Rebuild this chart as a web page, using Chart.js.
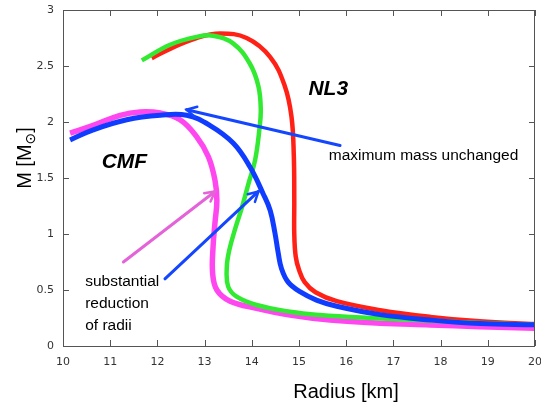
<!DOCTYPE html>
<html>
<head>
<meta charset="utf-8">
<script src="https://cdn.jsdelivr.net/npm/chart.js@4.4.0/dist/chart.umd.min.js"></script>
<style>
  body { margin: 0; background: #fff; }
  canvas { display: block; }
</style>
</head>
<body>
<canvas id="mr" width="541" height="410"></canvas>
<script>
// mass-radius curves (radius in km, mass in solar masses)
const cmfRadius = [10.15, 10.64, 11.35, 12.06, 12.62, 13.11, 13.61, 13.96, 14.24, 14.39, 14.49, 14.56, 14.63, 14.77, 15.02, 15.37, 15.8, 16.72, 17.78, 18.83, 20];
const cmfMass = [1.84, 1.93, 2.02, 2.06, 2.06, 1.97, 1.81, 1.6, 1.36, 1.21, 1.01, 0.83, 0.69, 0.57, 0.485, 0.41, 0.355, 0.28, 0.232, 0.2, 0.19];

const cmf2Radius = [10.15, 10.64, 11.21, 11.63, 12.06, 12.48, 12.83, 13.08, 13.22, 13.26, 13.22, 13.18, 13.17, 13.26, 13.54, 14.1, 14.81, 15.66, 16.72, 17.78, 18.83, 20];
const cmf2Mass = [1.9, 1.97, 2.06, 2.09, 2.08, 2.02, 1.87, 1.69, 1.48, 1.3, 1.1, 0.89, 0.65, 0.5, 0.4, 0.337, 0.277, 0.232, 0.203, 0.188, 0.172, 0.158];

const nl3Radius = [11.88, 12.3, 12.83, 13.33, 13.89, 14.39, 14.7, 14.84, 14.89, 14.9, 14.9, 14.93, 15.0, 15.12, 15.35, 15.8, 16.72, 17.78, 18.83, 20];
const nl3Mass = [2.57, 2.66, 2.75, 2.79, 2.75, 2.58, 2.32, 2.05, 1.7, 1.3, 1.0, 0.8, 0.68, 0.57, 0.48, 0.4, 0.32, 0.26, 0.22, 0.196];

const nl32Radius = [11.67, 12.27, 12.83, 13.18, 13.61, 13.96, 14.14, 14.19, 14.16, 14.07, 13.93, 13.8, 13.65, 13.52, 13.47, 13.5, 13.68, 14.1, 14.81, 15.44, 16.5, 17.6, 18.8, 20];
const nl32Mass = [2.55, 2.69, 2.76, 2.77, 2.7, 2.52, 2.32, 2.11, 1.93, 1.66, 1.45, 1.25, 1.05, 0.85, 0.7, 0.53, 0.44, 0.366, 0.306, 0.277, 0.25, 0.23, 0.205, 0.19];

// arrows: [fromR, fromM, toR, toM, colour]
const arrows = [
  [15.87, 1.79, 12.62, 2.11, '#1446ff'],
  [11.28, 0.75, 13.22, 1.38, '#e463d8'],
  [12.16, 0.6, 14.14, 1.38, '#1446ff'],
];

const labels = [
  { text: 'NL3', r: 15.2, m: 2.24, font: 'italic bold 21px "Liberation Sans", Arial' },
  { text: 'CMF', r: 10.82, m: 1.587, font: 'italic bold 21px "Liberation Sans", Arial' },
  { text: 'maximum mass unchanged', r: 15.63, m: 1.66, font: '15.5px "Liberation Sans", Arial' },
  { text: 'substantial', r: 10.47, m: 0.536, font: '15.5px "Liberation Sans", Arial' },
  { text: 'reduction', r: 10.47, m: 0.34, font: '15.5px "Liberation Sans", Arial' },
  { text: 'of radii', r: 10.47, m: 0.143, font: '15.5px "Liberation Sans", Arial' },
];

const toPoints = (rs, ms) => rs.map((r, i) => ({ x: r, y: ms[i] }));

function curve(rs, ms, color, width) {
  return {
    data: toPoints(rs, ms),
    showLine: true,
    borderColor: color,
    borderWidth: width,
    pointRadius: 0,
    tension: 0.4,
    fill: false,
  };
}

function drawArrow(ctx, x1, y1, x2, y2, color) {
  const ang = Math.atan2(y2 - y1, x2 - x1);
  const head = 11;
  ctx.save();
  ctx.strokeStyle = color;
  ctx.lineWidth = 3;
  ctx.lineCap = 'round';
  ctx.beginPath();
  ctx.moveTo(x1, y1);
  ctx.lineTo(x2, y2);
  ctx.stroke();
  ctx.lineWidth = 2.5;
  ctx.beginPath();
  ctx.moveTo(x2 - head * Math.cos(ang - 0.5), y2 - head * Math.sin(ang - 0.5));
  ctx.lineTo(x2, y2);
  ctx.lineTo(x2 - head * Math.cos(ang + 0.5), y2 - head * Math.sin(ang + 0.5));
  ctx.stroke();
  ctx.restore();
}

const decorations = {
  id: 'decorations',
  afterDatasetsDraw(chart) {
    const { ctx, chartArea: a, scales: { x, y } } = chart;

    // frame with inward ticks on all four sides
    ctx.save();
    ctx.strokeStyle = '#555';
    ctx.lineWidth = 1;
    ctx.strokeRect(a.left + 0.5, a.top + 0.5, a.right - a.left - 1, a.bottom - a.top);
    ctx.beginPath();
    x.ticks.forEach(t => {
      const px = Math.round(x.getPixelForValue(t.value)) + 0.5;
      ctx.moveTo(px, a.bottom); ctx.lineTo(px, a.bottom - 6);
      ctx.moveTo(px, a.top); ctx.lineTo(px, a.top + 6);
    });
    y.ticks.forEach(t => {
      const py = Math.round(y.getPixelForValue(t.value)) + 0.5;
      ctx.moveTo(a.left, py); ctx.lineTo(a.left + 6, py);
      ctx.moveTo(a.right, py); ctx.lineTo(a.right - 6, py);
    });
    ctx.stroke();
    ctx.restore();

    arrows.forEach(([r1, m1, r2, m2, c]) => {
      drawArrow(ctx, x.getPixelForValue(r1), y.getPixelForValue(m1),
        x.getPixelForValue(r2), y.getPixelForValue(m2), c);
    });

    ctx.save();
    ctx.fillStyle = '#000';
    ctx.textBaseline = 'alphabetic';
    labels.forEach(l => {
      ctx.font = l.font;
      ctx.fillText(l.text, x.getPixelForValue(l.r), y.getPixelForValue(l.m));
    });

    // axis titles
    ctx.font = '20px "Liberation Sans", Arial';
    ctx.textAlign = 'center';
    ctx.fillText('Radius [km]', 346, 398);

    ctx.translate(31, 158);
    ctx.rotate(-Math.PI / 2);
    const main = '20px "Liberation Sans", Arial';
    const sub = '14px "DejaVu Sans", "Liberation Sans"';
    ctx.font = main;
    const w1 = ctx.measureText('M [M').width;
    const w3 = ctx.measureText(']').width;
    ctx.font = sub;
    const w2 = ctx.measureText('\u2299').width;
    let cx = -(w1 + w2 + w3) / 2;
    ctx.textAlign = 'left';
    ctx.font = main;
    ctx.fillText('M [M', cx, 0);
    cx += w1;
    ctx.font = sub;
    ctx.fillText('\u2299', cx, 4);
    cx += w2;
    ctx.font = main;
    ctx.fillText(']', cx, 0);
    ctx.restore();
  }
};

const tickFont = { family: '"DejaVu Sans", sans-serif', size: 11 };

function noMargins(s) {
  s.paddingLeft = 0;
  s.paddingRight = 0;
  s.paddingTop = 0;
  s.paddingBottom = 0;
}

new Chart(document.getElementById('mr'), {
  type: 'scatter',
  data: {
    datasets: [
      curve(cmfRadius, cmfMass, '#0f3cff', 5),
      curve(nl32Radius, nl32Mass, '#33ea33', 4.5),
      curve(nl3Radius, nl3Mass, '#ff2116', 4.5),
      curve(cmf2Radius, cmf2Mass, '#ff47f0', 5.5),
    ]
  },
  options: {
    responsive: false,
    animation: false,
    devicePixelRatio: 1,
    layout: { padding: { top: 10, right: 6, left: 0, bottom: 0 } },
    plugins: {
      legend: { display: false },
      tooltip: { enabled: false }
    },
    scales: {
      x: {
        type: 'linear',
        min: 10,
        max: 20,
        ticks: { stepSize: 1, color: '#333', font: tickFont, padding: 10, maxRotation: 0 },
        grid: { display: false, drawTicks: false },
        border: { display: false },
        afterFit: s => { s.height = 64; noMargins(s); }
      },
      y: {
        min: 0,
        max: 3,
        ticks: { stepSize: 0.5, color: '#333', font: tickFont, padding: 9, callback: v => String(Number(v)) },
        grid: { display: false, drawTicks: false },
        border: { display: false },
        afterFit: s => { s.width = 63; noMargins(s); }
      }
    }
  },
  plugins: [decorations]
});
</script>
</body>
</html>
